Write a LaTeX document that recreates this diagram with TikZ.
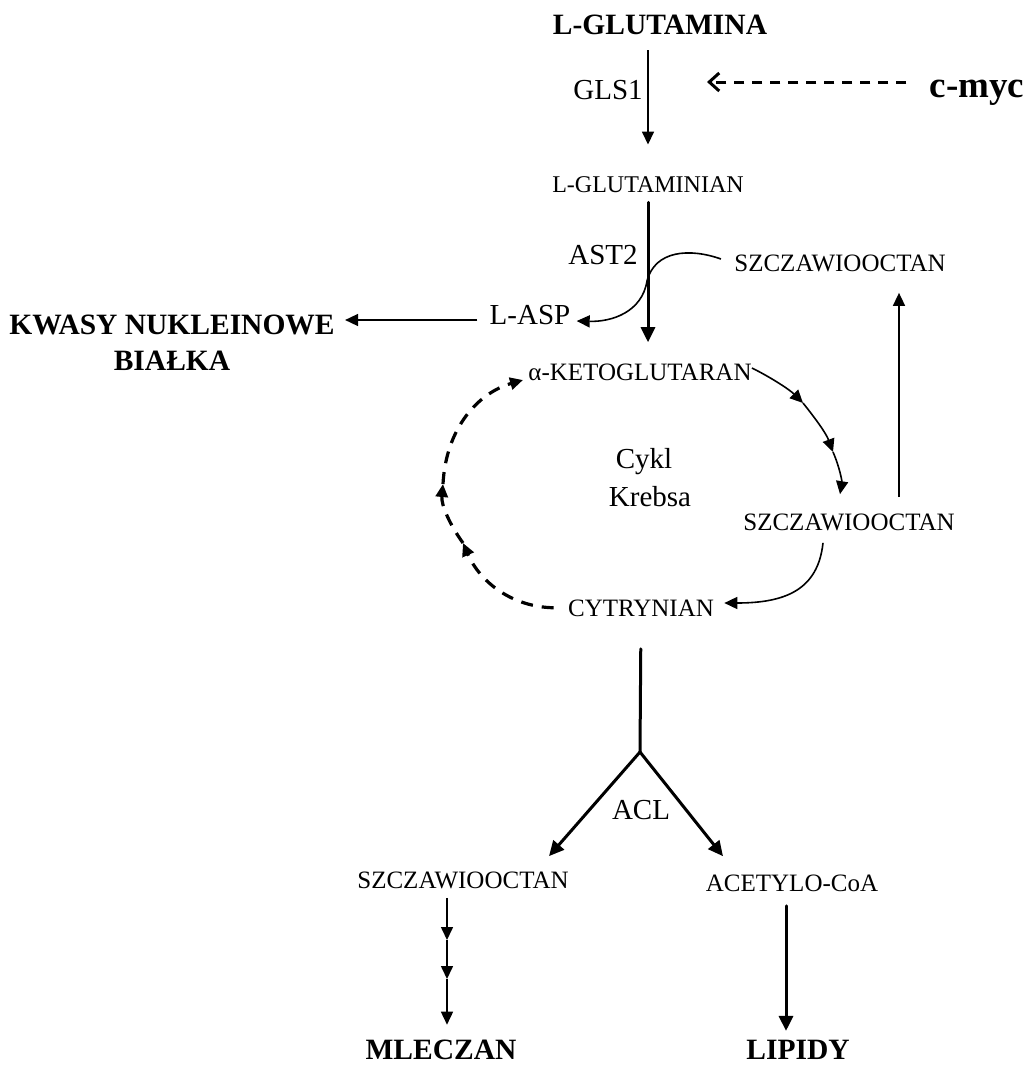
\documentclass[tikz,border=0pt]{standalone}
\usepackage{fontspec}
\setmainfont{Liberation Serif}
\usetikzlibrary{arrows.meta, positioning}
\tikzset{
	mol/.style={inner sep=0pt, font=\fontsize{12.5}{15}\selectfont},
	enz/.style={inner sep=0pt, font=\fontsize{14.5}{17}\selectfont},
	prod/.style={inner sep=0pt, font=\bfseries\fontsize{14.75}{17}\selectfont},
	thinarr/.style={line width=0.8pt, -{Triangle[length=6.5pt, width=6pt]}},
	thickarr/.style={line width=1.5pt, line cap=round, -{Triangle[length=7.5pt, width=7pt]}},
	cyclearr/.style={line width=1.6pt, dash pattern=on 6pt off 4.5pt, -{Triangle[length=6.5pt, width=6pt]}},
}

\begin{document}
\begin{tikzpicture}[x=0.5pt, y=-0.5pt]
	\useasboundingbox (0,0) rectangle (1025,1066);

	\node (glna) [prod] at (660,25) {L-GLUTAMINA};
	\node (gls) [enz] at (608,90) {GLS1};
	\node (cmyc) [prod, font=\bfseries\fontsize{18.5}{22}\selectfont, anchor=base] at (977,97) {c-myc};
	\coordinate (myctip) at (707,82);
	\node (glnian) [mol, font=\fontsize{12}{14}\selectfont] at (648,185) {L-GLUTAMINIAN};

	\node (ast) [enz] at (603,255) {AST2};
	\node (szcz1) [mol] at (840,263) {SZCZAWIOOCTAN};
	\node (lasp) [enz] at (530,315) {L-ASP};
	\node (kwasy) [prod] at (172,325) {KWASY NUKLEINOWE};
	\node (bialka) [prod, below=7.5pt of kwasy] {BIAŁKA};

	\node (akg) [mol] at (640,372) {α-KETOGLUTARAN};
	\node (cykl) [enz, anchor=base] at (644,468) {Cykl};
	\node (krebsa) [enz, below=5.5pt of cykl, xshift=3pt] {Krebsa};
	\node (szcz2) [mol] at (849,522) {SZCZAWIOOCTAN};
	\node (cytr) [mol] at (641,608) {CYTRYNIAN};

	\coordinate (fork) at (640,752);
	\node (acl) [enz] at (641,810) {ACL};
	\node (szcz3) [mol] at (463,880) {SZCZAWIOOCTAN};
	\node (acoa) [mol] at (792,883) {ACETYLO-CoA};
	\node (mlecz) [prod] at (441,1050) {MLECZAN};
	\node (lipidy) [prod] at (798,1050) {LIPIDY};

	% points where the arrows break
	\coordinate (k1) at (803,403);
	\coordinate (k2) at (833,452);
	\coordinate (d1) at (463,543);
	\coordinate (d2) at (443,484);
	\coordinate (m1) at (447,940);
	\coordinate (m2) at (447,979);

	\draw [line width=1.5pt, dash pattern=on 5pt off 4pt, -{Straight Barb[length=5pt, width=9pt]}, shorten <=11.5pt] (cmyc.west |- myctip) -- (myctip);

	\begin{scope}[thinarr]
		\draw [shorten <=7.5pt, shorten >=16pt] (glna.south -| glnian.north) -- (glnian.north);
		\draw ([xshift=-6.5pt, yshift=2pt]szcz1.west) .. controls (690,248) and (655,250) .. (647,281) .. controls (642,312) and (612,322) .. ([xshift=3pt, yshift=-3pt]lasp.east);
		\draw [shorten <=6pt, shorten >=5pt] ([yshift=-2.5pt]lasp.west) -- ([yshift=-2.5pt]lasp.west -| kwasy.east);
		\draw [shorten <=8pt, shorten >=10.5pt] ([xshift=25pt]szcz2.north) -- ([xshift=25pt]szcz2.north |- szcz1.south);
		\draw ([yshift=2pt]akg.east) .. controls (772,378) and (790,390) .. (k1);
		\draw (k1) .. controls (815,418) and (826,433) .. (k2);
		\draw (k2) .. controls (840,468) and (842,482) .. ([xshift=-4.5pt, yshift=9.5pt]szcz2.north);
		\draw ([xshift=-13pt, yshift=-6pt]szcz2.south) .. controls (818,590) and (785,603) .. ([xshift=5pt, yshift=2.5pt]cytr.east);
		\draw [shorten <=4.5pt] ([xshift=-8pt]szcz3.south) -- (m1);
		\draw (m1) -- (m2);
		\draw [shorten >=7.5pt] (m2) -- (m2 |- mlecz.north);
	\end{scope}

	\begin{scope}[thickarr]
		\draw [shorten <=4.5pt, shorten >=10.5pt] (glnian.south) -- (glnian.south |- akg.north);
		\draw [-, shorten <=16pt] (cytr.south) -- (fork);
		\draw (fork) -- ([xshift=43pt, yshift=7.5pt]szcz3.north);
		\draw (fork) -- ([xshift=-34.5pt, yshift=9pt]acoa.north);
		\draw [shorten <=7pt, shorten >=4.5pt] ([xshift=-3pt]acoa.south) -- ([xshift=-3pt]acoa.south |- lipidy.north);
	\end{scope}

	\begin{scope}[cyclearr]
		\draw [shorten <=7pt] (cytr.west) .. controls (512,607) and (480,582) .. (d1);
		\draw (d1) .. controls (450,525) and (441,505) .. (d2);
		\draw (d2) .. controls (446,428) and (478,393) .. ([xshift=-2.5pt, yshift=-4pt]akg.west);
	\end{scope}
\end{tikzpicture}
\end{document}
